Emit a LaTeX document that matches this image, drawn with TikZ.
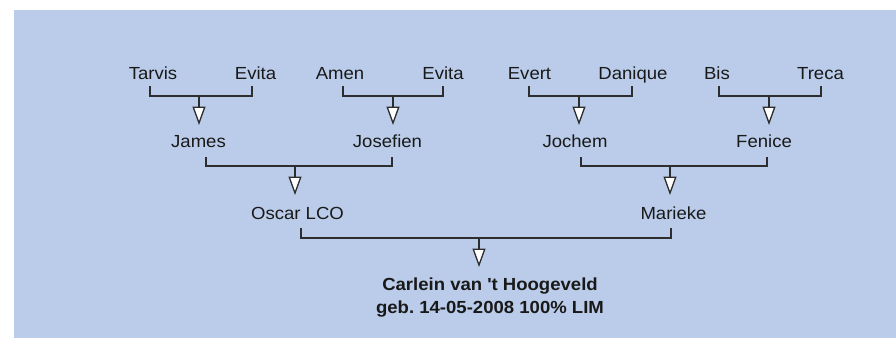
\documentclass[tikz,border=0pt]{standalone}
\usepackage{fontspec}
\setmainfont[FakeStretch=1.06]{Liberation Sans}
\usetikzlibrary{arrows.meta}
\definecolor{bgblue}{RGB}{186,204,233}
\definecolor{ink}{RGB}{25,25,25}
\definecolor{linec}{RGB}{45,45,45}
\tikzset{
  person/.style={anchor=base, inner sep=0pt, font=\fontsize{17.5}{21}\selectfont, text=ink},
  childtxt/.style={person, font=\bfseries\fontsize{17.5}{21}\selectfont},
  br/.style={draw=linec, line width=1.3pt},
  arr/.style={draw=linec, line width=1.3pt, -{Triangle[length=18.5pt,width=13pt,fill=white]}},
}
\begin{document}
\frenchspacing
\begin{tikzpicture}[x=1pt,y=1pt]
\useasboundingbox (0,0) rectangle (896,-338);
\fill[bgblue] (14,-10) rectangle (896,-338);

% row 1
\node[person] (tarvis)  at (153,-79)   {Tarvis};
\node[person] (evitaA)  at (255.5,-79) {Evita};
\node[person] (amen)    at (340,-79)   {Amen};
\node[person] (evitaB)  at (443,-79)   {Evita};
\node[person] (evert)   at (529.5,-79) {Evert};
\node[person] (danique) at (633,-79)   {Danique};
\node[person] (bis)     at (717,-79)   {Bis};
\node[person] (treca)   at (820.5,-79) {Treca};
% row 2
\node[person] (james)    at (198.5,-147) {James};
\node[person] (josefien) at (387.5,-147) {Josefien};
\node[person] (jochem)   at (575,-147)   {Jochem};
\node[person] (fenice)   at (764,-147)   {Fenice};
% row 3
\node[person] (oscar)   at (297.5,-219) {Oscar LCO};
\node[person] (marieke) at (673.5,-219) {Marieke};
% child
\node[childtxt] (carl) at (490,-290) {Carlein van \textquotesingle t Hoogeveld};
\node[childtxt] (geb)  at (490,-313) {geb.\ 14-05-2008 100\% LIM};

% row 1 brackets
\draw[br] ([xshift=-3pt,yshift=-7pt]tarvis.base) |- ([xshift=-3.5pt,yshift=-17pt]evitaA.base) -- ([xshift=-3.5pt,yshift=-7pt]evitaA.base);
\draw[br] ([xshift=3pt,yshift=-7pt]amen.base) |- ([yshift=-17pt]evitaB.base) -- ([yshift=-7pt]evitaB.base);
\draw[br] ([xshift=-0.5pt,yshift=-7pt]evert.base) |- ([xshift=-1pt,yshift=-17pt]danique.base) -- ([xshift=-1pt,yshift=-7pt]danique.base);
\draw[br] ([xshift=2pt,yshift=-7pt]bis.base) |- ([xshift=0.5pt,yshift=-17pt]treca.base) -- ([xshift=0.5pt,yshift=-7pt]treca.base);
\coordinate (m1) at (199,-96);
\coordinate (m2) at (393,-96);
\coordinate (m3) at (579,-96);
\coordinate (m4) at (769,-96);
\draw[arr] (m1) -- ++(0,-29);
\draw[arr] (m2) -- ++(0,-29);
\draw[arr] (m3) -- ++(0,-29);
\draw[arr] (m4) -- ++(0,-29);

% row 2 brackets
\draw[br] ([xshift=7.5pt,yshift=-10pt]james.base) |- ([xshift=4.5pt,yshift=-19pt]josefien.base) -- ([xshift=4.5pt,yshift=-10pt]josefien.base);
\draw[br] ([xshift=6pt,yshift=-10pt]jochem.base) |- ([xshift=3pt,yshift=-19pt]fenice.base) -- ([xshift=3pt,yshift=-10pt]fenice.base);
\coordinate (m5) at (295,-166);
\coordinate (m6) at (670,-166);
\draw[arr] (m5) -- ++(0,-29);
\draw[arr] (m6) -- ++(0,-29);

% row 3 bracket
\draw[br] ([xshift=3.5pt,yshift=-9pt]oscar.base) |- ([xshift=-2.5pt,yshift=-19pt]marieke.base) -- ([xshift=-2.5pt,yshift=-9pt]marieke.base);
\coordinate (m7) at (479,-238);
\draw[arr] (m7) -- ++(0,-29);
\end{tikzpicture}
\end{document}
